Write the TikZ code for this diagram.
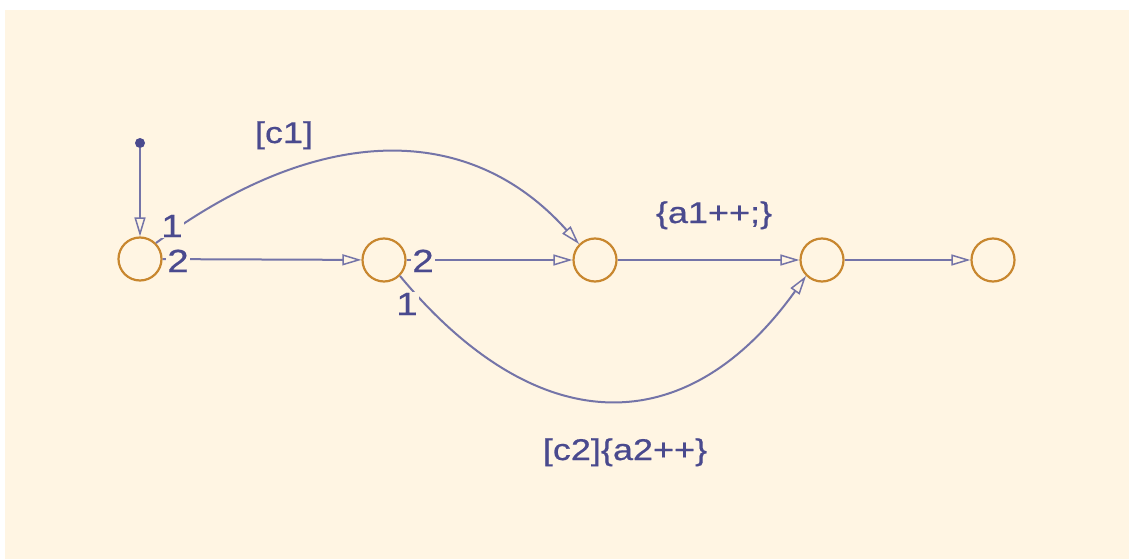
\documentclass[tikz,border=0pt]{standalone}
\usepackage{fontspec}
\setmainfont{Liberation Sans}[FakeStretch=1.2,FakeBold=0.6]
\usetikzlibrary{arrows.meta}
\definecolor{bg}{HTML}{FFF5E3}
\definecolor{txt}{HTML}{4A4A8E}
\definecolor{ln}{HTML}{7474A8}
\definecolor{st}{HTML}{C8872F}
\begin{document}
\begin{tikzpicture}[x=1pt,y=-1pt,
  state/.style={circle, draw=st, line width=2.2pt, minimum size=43pt, inner sep=0pt},
  trans/.style={draw=ln, line width=2pt, -{Triangle[open,length=19pt,width=11pt,line width=1.5pt]}},
  lbl/.style={text=txt, font=\fontsize{30}{36}\selectfont, inner sep=0pt, anchor=base},
  plbl/.style={lbl, font=\fontsize{32}{36}\selectfont, fill=bg, inner sep=1pt}]
\useasboundingbox (0,0) rectangle (1129,559);
\fill[white] (0,0) rectangle (1129,559);
\fill[bg] (5,10) rectangle (1129,559);

\node[state] (A) at (140,259) {};
\node[state] (B) at (384,260) {};
\node[state] (C) at (595,260) {};
\node[state] (D) at (822,260) {};
\node[state] (E) at (993,260) {};
\node[circle, fill=txt, inner sep=0pt, minimum size=10pt] (dot) at (140,143) {};

\draw[trans] (dot) -- (A);
\draw[trans] (A) -- (B);
\draw[trans] (B) -- (C);
\draw[trans] (C) -- (D);
\draw[trans] (D) -- (E);
\draw[trans] (A.45) .. controls (320,122) and (470,122) .. (C.135);
\draw[trans] (B.-45) .. controls (538,442) and (687,442) .. (D.-135);

\node[plbl] (a2) at (178,272) {2};
\node[plbl] (a1) at (172,237) {1};
\node[plbl] (b2) at (423,272) {2};
\node[plbl] (b1) at (407,315) {1};

\node[lbl] (c1) at (284,143) {[c1]};
\node[lbl] (act1) at (714,223) {\{a1++;\}};
\node[lbl] (c2) at (625,460) {[c2]\{a2++\}};
\end{tikzpicture}
\end{document}
